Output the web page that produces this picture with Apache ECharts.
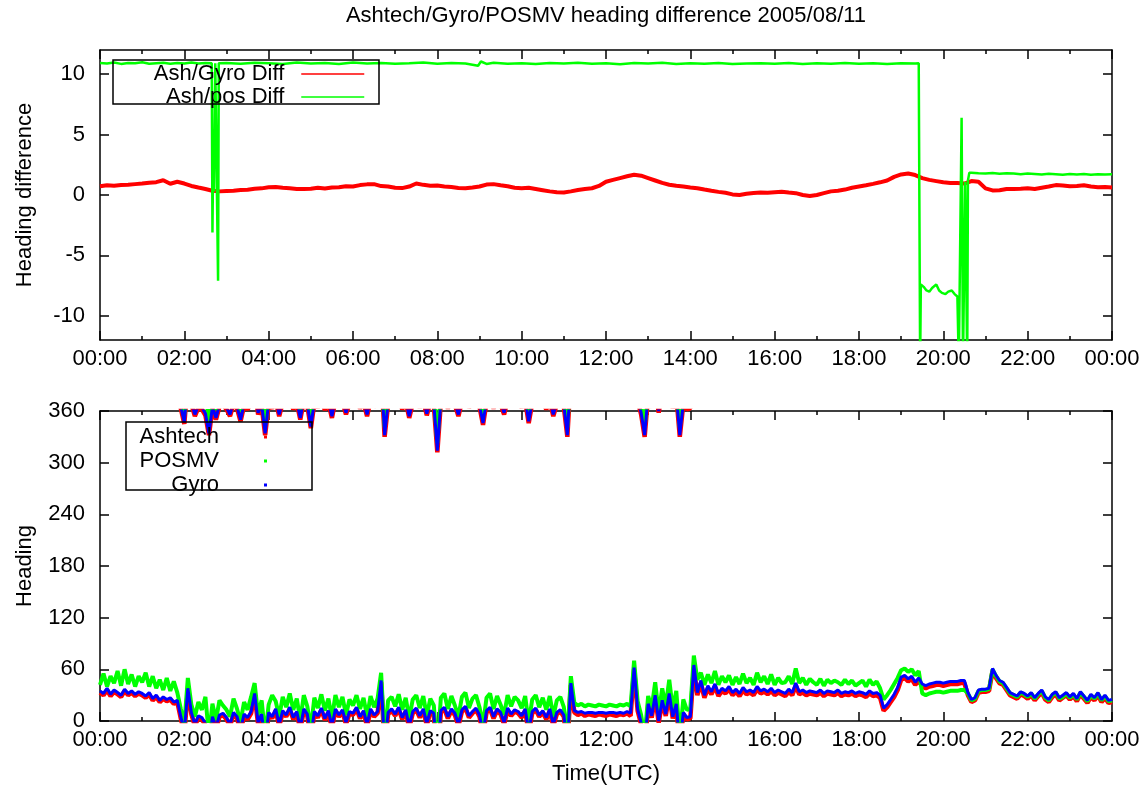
<!DOCTYPE html>
<html><head><meta charset="utf-8">
<script src="https://cdn.jsdelivr.net/npm/echarts@6/dist/echarts.min.js"></script>
<style>html,body{margin:0;padding:0;background:#fff}#c{width:1146px;height:792px}</style>
</head><body><div id="c"></div><script>
// ---- data ----
const tickLabels = ['00:00','02:00','04:00','06:00','08:00','10:00','12:00','14:00','16:00','18:00','20:00','22:00','00:00'];
const diffTicks = [-10, -5, 0, 5, 10];

// Ash/Gyro difference, one value every 10 minutes from 00:00 to 24:00
const diffStepMin = 10;
const ashGyroDiff = [
 0.72,0.80,0.76,0.82,0.85,0.90,
 0.95,1.02,1.06,1.22,0.93,1.10,
 0.95,0.75,0.62,0.50,0.35,0.30,
 0.34,0.36,0.42,0.44,0.52,0.55,
 0.64,0.66,0.60,0.56,0.50,0.50,
 0.52,0.60,0.54,0.62,0.64,0.72,
 0.70,0.82,0.88,0.90,0.74,0.70,
 0.60,0.57,0.70,0.95,0.84,0.76,
 0.78,0.70,0.66,0.58,0.56,0.62,
 0.70,0.86,0.90,0.80,0.72,0.60,
 0.56,0.60,0.50,0.40,0.30,0.22,
 0.20,0.30,0.42,0.50,0.56,0.75,
 1.10,1.25,1.40,1.55,1.68,1.60,
 1.40,1.20,1.00,0.85,0.76,0.70,
 0.62,0.56,0.45,0.35,0.26,0.18,
 0.05,0.00,0.10,0.16,0.20,0.18,
 0.22,0.26,0.20,0.15,0.00,-0.08,
 0.00,0.15,0.30,0.36,0.45,0.60,
 0.70,0.80,0.92,1.05,1.20,1.50,
 1.70,1.78,1.65,1.40,1.25,1.15,
 1.05,1.00,1.00,0.95,1.15,1.10,
 0.55,0.38,0.40,0.50,0.50,0.52,
 0.55,0.50,0.60,0.70,0.82,0.78,
 0.72,0.75,0.80,0.70,0.65,0.66,
 0.62
];

// Ash/POSMV difference, [minute of day, value]
const ashPosDiff = [
 [0,10.92],[10,10.88],[20,10.97],[30,10.85],[40,10.93],[50,10.9],[60,10.98],[70,10.86],[80,10.91],[90,10.95],
 [100,10.87],[110,10.93],[120,10.89],[130,10.96],[140,10.88],[150,10.92],[159,10.9],
 [160,-3.1],[161,3.1],[162,0.3],[164,10.9],[166,10.85],[168,-7.1],[169,10.9],
 [180,10.93],[200,10.86],[220,10.95],[240,10.9],[260,10.84],[280,10.97],[300,10.88],[320,10.92],[340,10.85],[360,10.96],
 [380,10.89],[400,10.93],[420,10.86],[440,10.91],[460,10.97],[480,10.87],[500,10.92],[520,10.88],[538,10.7],[542,11.05],[550,10.85],
 [560,10.94],[580,10.87],[600,10.91],[620,10.84],[640,10.93],[660,10.89],[680,10.95],[700,10.86],[720,10.9],[740,10.83],
 [760,10.92],[780,10.88],[800,10.94],[820,10.85],[840,10.9],[860,10.87],[880,10.93],[900,10.84],[920,10.89],[940,10.91],
 [960,10.86],[980,10.92],[1000,10.85],[1020,10.9],[1040,10.87],[1060,10.93],[1080,10.86],[1100,10.9],[1120,10.84],[1140,10.91],
 [1160,10.88],[1165,10.9],
 [1167,-14],[1168,-7.4],[1172,-7.6],[1176,-7.9],[1180,-8.0],[1184,-7.7],[1190,-7.4],[1194,-7.9],[1198,-8.1],[1203,-8.2],
 [1207,-8.0],[1212,-7.9],[1216,-8.2],[1220,-8.4],[1221,-8.5],
 [1222,-14],[1226,6.4],[1228,-14],[1230,-14],[1231,1.1],[1233,1.1],[1234,-14],[1235,1.2],[1237,1.85],
 [1240,1.85],[1250,1.8],[1260,1.78],[1270,1.82],[1280,1.75],[1290,1.8],[1300,1.77],[1310,1.72],[1320,1.78],[1330,1.74],
 [1340,1.7],[1350,1.76],[1360,1.72],[1370,1.68],[1380,1.74],[1390,1.7],[1400,1.73],[1410,1.68],[1420,1.72],[1430,1.69],[1440,1.71]
];

// Headings, one value every 5 minutes (values below 0 are headings just west of north)
const headStepMin = 5;
const ashtech = [
 33,30,36,29,34,31,28,35,30,33,29,32,
 30,27,31,24,28,22,26,23,25,20,22,3,
 -15,36,8,-6,4,2,-5,-28,3,-10,5,7,
 2,-6,8,3,-12,6,2,9,30,-4,6,-28,
 8,3,12,-6,10,5,14,2,9,-10,12,6,
 -20,9,4,13,1,10,-8,12,5,11,-4,9,
 7,14,3,10,-6,12,5,9,45,-30,8,12,
 6,14,2,11,-8,9,13,4,12,-5,10,7,
 -48,10,14,3,12,7,-6,11,15,4,9,13,
 5,-16,10,14,3,12,8,-4,13,6,11,9,
 4,12,-14,9,13,5,10,2,12,-6,8,11,
 5,-30,42,10,7,9,6,8,7,6,8,7,
 6,8,7,6,8,7,9,6,60,12,-4,-30,
 18,4,28,-2,22,6,30,3,18,-30,8,2,
 3,62,30,44,27,38,31,40,29,35,32,37,
 30,34,29,36,31,33,30,37,32,34,31,35,
 30,33,31,29,34,30,41,31,33,30,32,31,
 30,33,29,32,31,30,33,29,31,30,32,29,
 31,30,28,32,29,30,27,12,16,22,28,36,
 48,50,46,49,42,47,40,38,40,41,42,42,
 41,42,43,43,43,44,44,30,22,24,33,34,
 34,35,58,50,44,42,36,30,28,26,31,29,
 26,30,24,29,33,25,22,28,31,24,27,30,
 25,29,23,31,26,21,28,24,30,22,27,21,
 22
];
const posmv = [
 42,55,40,52,44,58,41,60,43,54,40,52,
 45,56,40,52,38,48,36,50,35,46,33,14,
 -4,50,19,5,22,13,28,-17,20,1,24,18,
 13,5,26,14,-1,22,13,28,44,7,24,-17,
 19,30,23,5,28,16,32,13,26,1,30,17,
 -9,27,15,31,12,26,3,30,16,28,7,25,
 18,30,14,27,5,29,16,26,56,-19,24,28,
 17,31,13,27,3,25,30,15,29,6,26,18,
 -37,27,32,14,29,18,5,28,33,15,26,30,
 16,-5,27,32,14,29,19,7,30,17,28,24,
 15,29,-3,25,30,16,27,13,29,5,24,28,
 16,-19,52,21,18,20,17,19,18,17,19,18,
 17,19,18,17,19,18,20,17,70,23,7,-19,
 29,15,45,9,38,17,48,14,35,-19,25,13,
 14,76,48,56,42,54,44,58,42,52,45,53,
 42,51,43,55,44,50,42,56,45,52,43,54,
 42,50,44,45,52,43,61,44,50,42,49,45,
 42,49,41,48,44,47,45,42,48,43,47,41,
 44,47,40,48,42,46,38,25,30,36,43,50,
 59,61,57,60,53,58,32,30,32,33,34,34,
 33,34,35,35,35,36,36,32,24,26,35,36,
 36,37,60,52,46,44,38,32,30,28,33,31,
 28,32,26,31,35,27,24,30,33,26,28,32,
 27,31,25,33,28,23,30,26,32,24,29,23,
 24
];
const gyro = [
 35,32,38,31,36,33,30,37,32,35,31,34,
 32,29,33,26,30,24,28,25,27,22,24,5,
 -13,38,10,-4,6,4,-3,-26,5,-8,7,9,
 4,-4,10,5,-10,8,4,11,32,-2,8,-26,
 10,5,14,-4,12,7,16,4,11,-8,14,8,
 -18,11,6,15,3,12,-6,14,7,13,-2,11,
 9,16,5,12,-4,14,7,11,47,-28,10,14,
 8,16,4,13,-6,11,15,6,14,-3,12,9,
 -46,12,16,5,14,9,-4,13,17,6,11,15,
 7,-14,12,16,5,14,10,-2,15,8,13,11,
 6,14,-12,11,15,7,12,4,14,-4,10,13,
 7,-28,44,12,10,11,9,10,10,9,10,10,
 9,10,10,9,10,9,11,9,62,14,-2,-28,
 20,6,30,0,24,8,32,5,20,-28,10,4,
 5,65,33,47,30,41,34,43,32,38,35,40,
 33,37,32,39,34,36,33,40,35,37,34,38,
 33,36,34,32,37,33,44,34,36,33,35,34,
 33,36,32,35,34,33,36,32,34,33,35,32,
 34,33,31,35,32,33,30,15,19,25,31,39,
 51,53,49,52,45,50,43,41,43,44,45,45,
 44,45,46,46,46,47,47,33,25,27,36,37,
 37,38,61,53,47,45,39,33,31,29,34,32,
 29,33,27,32,36,28,25,31,34,27,30,33,
 28,32,26,34,29,24,31,27,33,25,30,24,
 25
];

// ---- chart ----
const FONT = "'Liberation Sans', Arial, Helvetica, sans-serif";
const txt = {fontFamily: FONT, fontSize: 22, color: '#000'};
const axisLine = {show: true, onZero: false, lineStyle: {color: '#000', width: 1.5}};
const tick = {show: true, inside: true, length: 9, lineStyle: {color: '#000', width: 1.5}};
const minor = {show: true, splitNumber: 2, length: 4, lineStyle: {color: '#000', width: 1.5}};

function xAx(grid, pos, showLabel, extra) {
  return Object.assign({
    type: 'value', gridIndex: grid, position: pos, min: 0, max: 1440, interval: 120,
    axisLine, axisTick: tick, minorTick: minor,
    splitLine: {show: false}, minorSplitLine: {show: false},
    axisLabel: Object.assign({show: showLabel, margin: 8, formatter: v => tickLabels[Math.round(v / 120)]}, txt)
  }, extra || {});
}

const chart = echarts.init(document.getElementById('c'));
const toPairs = (arr, step, off) => arr.map((v, i) => [i * step, v + off]);
const headSeries = [];
[['Ashtech', ashtech, '#ff0000', 4.5], ['POSMV', posmv, '#00ff00', 4], ['Gyro', gyro, '#0000ff', 3]].forEach(([name, arr, col, w]) => {
  [0, 360].forEach(off => headSeries.push({
    name, type: 'line', xAxisIndex: 2, yAxisIndex: 2, symbol: 'none', clip: true,
    data: toPairs(arr, headStepMin, off),
    lineStyle: {color: col, width: w, join: 'bevel'}, itemStyle: {color: col}
  }));
});

chart.setOption({
  animation: false,
  backgroundColor: '#fff',
  title: {
    text: 'Ashtech/Gyro/POSMV heading difference 2005/08/11',
    left: 606, top: 5, textAlign: 'center', padding: 0,
    textStyle: {fontFamily: FONT, fontSize: 22, fontWeight: 'normal', color: '#000'}
  },
  grid: [
    {left: 100, top: 50, width: 1012, height: 290},
    {left: 100, top: 411, width: 1012, height: 310}
  ],
  xAxis: [
    xAx(0, 'bottom', true),
    xAx(0, 'top', false),
    xAx(1, 'bottom', true, {name: 'Time(UTC)', nameLocation: 'middle', nameGap: 42, nameTextStyle: txt}),
    xAx(1, 'top', false)
  ],
  yAxis: [
    {type: 'value', gridIndex: 0, position: 'left', min: -12, max: 12,
     axisLine, axisTick: Object.assign({customValues: diffTicks}, tick),
     splitLine: {show: false},
     axisLabel: Object.assign({customValues: diffTicks, margin: 15}, txt),
     name: 'Heading difference', nameLocation: 'middle', nameGap: 64, nameTextStyle: txt},
    {type: 'value', gridIndex: 0, position: 'right', min: -12, max: 12,
     axisLine, axisTick: Object.assign({customValues: diffTicks}, tick),
     splitLine: {show: false}, axisLabel: {show: false}},
    {type: 'value', gridIndex: 1, position: 'left', min: 0, max: 360, interval: 60,
     axisLine, axisTick: tick, splitLine: {show: false},
     axisLabel: Object.assign({margin: 15}, txt),
     name: 'Heading', nameLocation: 'middle', nameGap: 64, nameTextStyle: txt},
    {type: 'value', gridIndex: 1, position: 'right', min: 0, max: 360, interval: 60,
     axisLine, axisTick: tick, splitLine: {show: false}, axisLabel: {show: false}}
  ],
  legend: [
    {data: ['Ash/Gyro Diff', 'Ash/pos Diff'], orient: 'vertical', align: 'right',
     right: 1146 - 365, top: 63, padding: 0, itemGap: 1, itemWidth: 63, itemHeight: 1,
     selectedMode: false, lineStyle: {width: 1.5}, itemStyle: {opacity: 0},
     textStyle: Object.assign({lineHeight: 20, padding: [0, 12, 0, 0]}, txt)},
    {data: ['Ashtech', 'POSMV', 'Gyro'], orient: 'vertical', align: 'right',
     right: 1146 - 267, top: 426, padding: 0, itemGap: 2, itemWidth: 3, itemHeight: 3, icon: 'rect',
     selectedMode: false,
     textStyle: Object.assign({lineHeight: 20, padding: [0, 40, 0, 0]}, txt)}
  ],
  graphic: [
    {type: 'rect', shape: {x: 113, y: 60, width: 266, height: 44}, style: {fill: 'none', stroke: '#000', lineWidth: 1.5}, z: 10},
    {type: 'rect', shape: {x: 126, y: 422, width: 186, height: 68}, style: {fill: 'none', stroke: '#000', lineWidth: 1.5}, z: 10}
  ],
  series: [
    {name: 'Ash/Gyro Diff', type: 'line', xAxisIndex: 0, yAxisIndex: 0, symbol: 'none', clip: true,
     data: toPairs(ashGyroDiff, diffStepMin, 0),
     lineStyle: {color: '#ff0000', width: 4}, itemStyle: {color: '#ff0000'}},
    {name: 'Ash/pos Diff', type: 'line', xAxisIndex: 0, yAxisIndex: 0, symbol: 'none', clip: true,
     data: ashPosDiff,
     lineStyle: {color: '#00ff00', width: 2.5}, itemStyle: {color: '#00ff00'}}
  ].concat(headSeries)
});
</script></body></html>
